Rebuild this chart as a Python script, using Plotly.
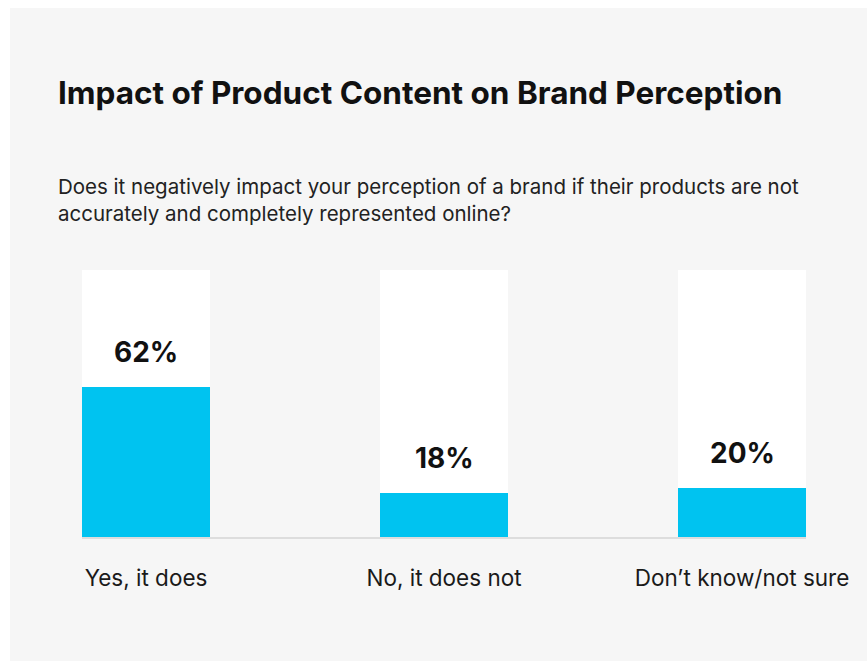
import plotly.graph_objects as go

# Survey answers and their shares (%)
categories = ["Yes, it does", "No, it does not", "Don\u2019t know/not sure"]
shares = [62, 18, 20]
share_labels = ["62%", "18%", "20%"]

title_text = "Impact of Product Content on Brand Perception"
question_text = ("Does it negatively impact your perception of a brand if their products are not<br>"
                 "accurately and completely represented online?")

W, H = 867, 661
L, R, T, B = 82, 61, 270, 124
plot_w = W - L - R
plot_h = H - T - B
bar_w = 0.4295
positions = list(range(len(categories)))

BLUE = "#00c3f0"
PANEL = "#f6f6f6"
INK = "#111111"
FONT = "Inter"


def px_x(px):
    return (px - L) / plot_w


def px_y(py):
    return (H - B - py) / plot_h


fig = go.Figure()

fig.add_trace(go.Bar(
    x=positions, y=shares, width=bar_w,
    marker=dict(color=BLUE, line=dict(width=0)),
    hoverinfo="skip",
))

shapes = [
    # light panel behind everything
    dict(type="rect", xref="paper", yref="paper",
         x0=px_x(10), x1=px_x(W + 5), y0=px_y(H + 5), y1=px_y(8),
         fillcolor=PANEL, line=dict(width=0), layer="below"),
]
# white tracks behind each bar
for p in positions:
    shapes.append(dict(type="rect", xref="x", yref="paper",
                       x0=p - bar_w / 2, x1=p + bar_w / 2, y0=0, y1=1,
                       fillcolor="white", line=dict(width=0), layer="below"))

annotations = [
    dict(text=f"<b>{title_text}</b>", xref="paper", yref="paper",
         x=px_x(56), y=px_y(93), xanchor="left", yanchor="middle",
         showarrow=False, font=dict(family=FONT, size=31.5, color=INK)),
    dict(text=question_text, xref="paper", yref="paper",
         x=px_x(56), y=px_y(200), xanchor="left", yanchor="middle",
         align="left", showarrow=False,
         font=dict(family=FONT, size=20.5, color="#222222")),
]
for p, v, lab in zip(positions, shares, share_labels):
    annotations.append(dict(text=f"<b>{lab}</b>", x=p, y=v, xref="x", yref="y",
                            xanchor="center", yanchor="middle", yshift=35,
                            showarrow=False,
                            font=dict(family=FONT, size=28, color=INK)))

fig.update_layout(
    width=W, height=H,
    margin=dict(l=L, r=R, t=T, b=B, pad=0),
    paper_bgcolor="white", plot_bgcolor="rgba(0,0,0,0)",
    showlegend=False, bargap=0,
    shapes=shapes, annotations=annotations,
    xaxis=dict(range=[-bar_w / 2, 2 + bar_w / 2], tickvals=positions,
               ticktext=categories, showgrid=False, zeroline=False,
               showline=True, linecolor="#dddddd", linewidth=2,
               layer="below traces", ticks="", ticklabelstandoff=20,
               tickfont=dict(family=FONT, size=22.5, color="#1a1a1a"),
               fixedrange=True),
    yaxis=dict(range=[0, 110], visible=False, fixedrange=True),
)

fig.write_html("out.html")
